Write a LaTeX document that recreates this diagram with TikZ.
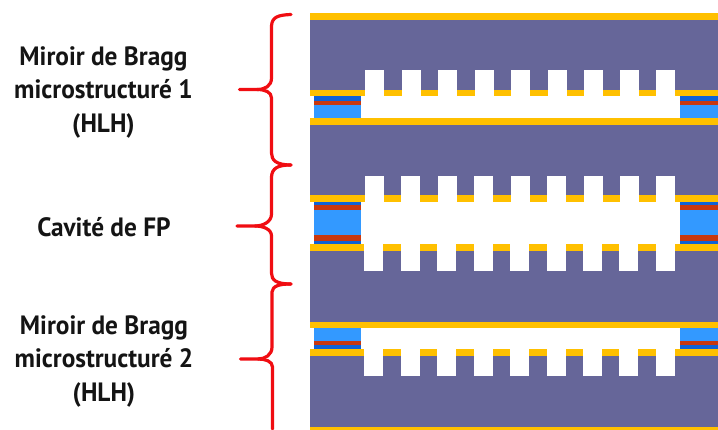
\documentclass[tikz,border=0pt]{standalone}
\usepackage{fontspec}
\setmainfont[FakeStretch=0.955]{PT Sans}
\definecolor{subst}{HTML}{666699}
\definecolor{gold}{HTML}{FFC000}
\definecolor{lblue}{HTML}{3399FF}
\definecolor{dblue}{HTML}{0F62D6}
\definecolor{lred}{HTML}{C8380F}
\definecolor{brace}{HTML}{F00D12}
\tikzset{
  lab/.style={font=\fontsize{26.5}{33.5}\selectfont\bfseries, align=center, text=black!92, inner sep=0pt},
  bracel/.style={draw=brace, line width=3.2pt, line cap=round, line join=round}
}
\newcommand{\layer}[5]{\fill[#1] (#2,#3) rectangle (#4,#5);}
\begin{document}
\begin{tikzpicture}[x=1pt,y=-1pt]
\useasboundingbox (0,0) rectangle (718,430);
% substrate
\layer{subst}{310}{20}{718}{427}
% gold top and bottom
\layer{gold}{310}{13}{718}{20}
\layer{gold}{310}{427}{718}{430}
% cavity 1
\layer{gold}{310}{90}{718}{96.5}
\layer{white}{310}{96.5}{718}{118}
\layer{gold}{310}{118}{718}{125}
\foreach \p in {365,401.5,438,474.5,511,547.5,584,620,656}{\layer{white}{\p}{70}{\p+19}{97}}
\foreach \xa/\xb in {313.5/360.5,680/718}{
  \layer{dblue}{\xa}{96.5}{\xb}{101}
  \layer{lred}{\xa}{101}{\xb}{105.5}
  \layer{lblue}{\xa}{105.5}{\xb}{118}
}
% cavity 2
\layer{gold}{310}{195.3}{718}{201.6}
\layer{white}{310}{201.6}{718}{244}
\layer{gold}{310}{244}{718}{251}
\foreach \p in {365,401,437.5,474,510.5,547,583.5,620,656}{\layer{white}{\p}{175.7}{\p+19}{202}}
\foreach \p in {363.5,400.5,436.5,473.5,510,547,583,619,656}{\layer{white}{\p}{243.5}{\p+19}{271}}
\foreach \xa/\xb in {313.5/360.5,679.5/718}{
  \layer{dblue}{\xa}{201.6}{\xb}{205.5}
  \layer{lred}{\xa}{205.5}{\xb}{210}
  \layer{lblue}{\xa}{210}{\xb}{235}
  \layer{lred}{\xa}{235}{\xb}{240.7}
  \layer{dblue}{\xa}{240.7}{\xb}{244}
}
% cavity 3
\layer{gold}{310}{321.6}{718}{328.2}
\layer{white}{310}{328.2}{718}{349.5}
\layer{gold}{310}{349.5}{718}{356}
\foreach \p in {363.5,400.5,436.5,473.5,510,547,583,619,656}{\layer{white}{\p}{349}{\p+19}{376.5}}
\foreach \xa/\xb in {313.5/360.5,680/718}{
  \layer{lblue}{\xa}{328.2}{\xb}{340.7}
  \layer{lred}{\xa}{340.7}{\xb}{345}
  \layer{dblue}{\xa}{345}{\xb}{349.5}
}
% braces
\coordinate (t0) at (291,14.5);
\coordinate (c1) at (239.5,89.5);
\coordinate (j1) at (291,165);
\coordinate (c2) at (237,226);
\coordinate (j2) at (291,284);
\coordinate (c3) at (240.5,359);
\coordinate (t3) at (272.5,429);
\draw[bracel] (t0) .. controls (278,15) and (272,17) .. (271.5,26) -- (271.5,78)
  .. controls (271.5,86) and (265,89.5) .. (257,89.5) -- (c1);
\draw[bracel] (257,89.5) .. controls (265,89.5) and (271.5,92) .. (271.5,98) -- (271.5,153)
  .. controls (271.5,160) and (276,165) .. (j1);
\draw[bracel] (j1) .. controls (278,165) and (272,168) .. (271.5,177) -- (271.5,214)
  .. controls (271.5,222) and (263,226) .. (255,226) -- (c2);
\draw[bracel] (255,226) .. controls (263,226) and (271.5,229) .. (271.5,236) -- (271.5,273)
  .. controls (271.5,280) and (276,284) .. (j2);
\draw[bracel] (j2) .. controls (279,284) and (272.5,286) .. (272,292) -- (272,347)
  .. controls (272,355) and (265,359) .. (258,359) -- (c3);
\draw[bracel] (258,359) .. controls (265,359) and (272.5,361) .. (272.5,367) -- (t3);
% labels
\node[lab] (m1) at (103.5,92) {Miroir de Bragg\\microstructuré 1\\(HLH)};
\node[lab] (fp) at (104,227.5) {Cavité de FP};
\node[lab] (m2) at (104,361) {Miroir de Bragg\\microstructuré 2\\(HLH)};
\end{tikzpicture}
\end{document}
